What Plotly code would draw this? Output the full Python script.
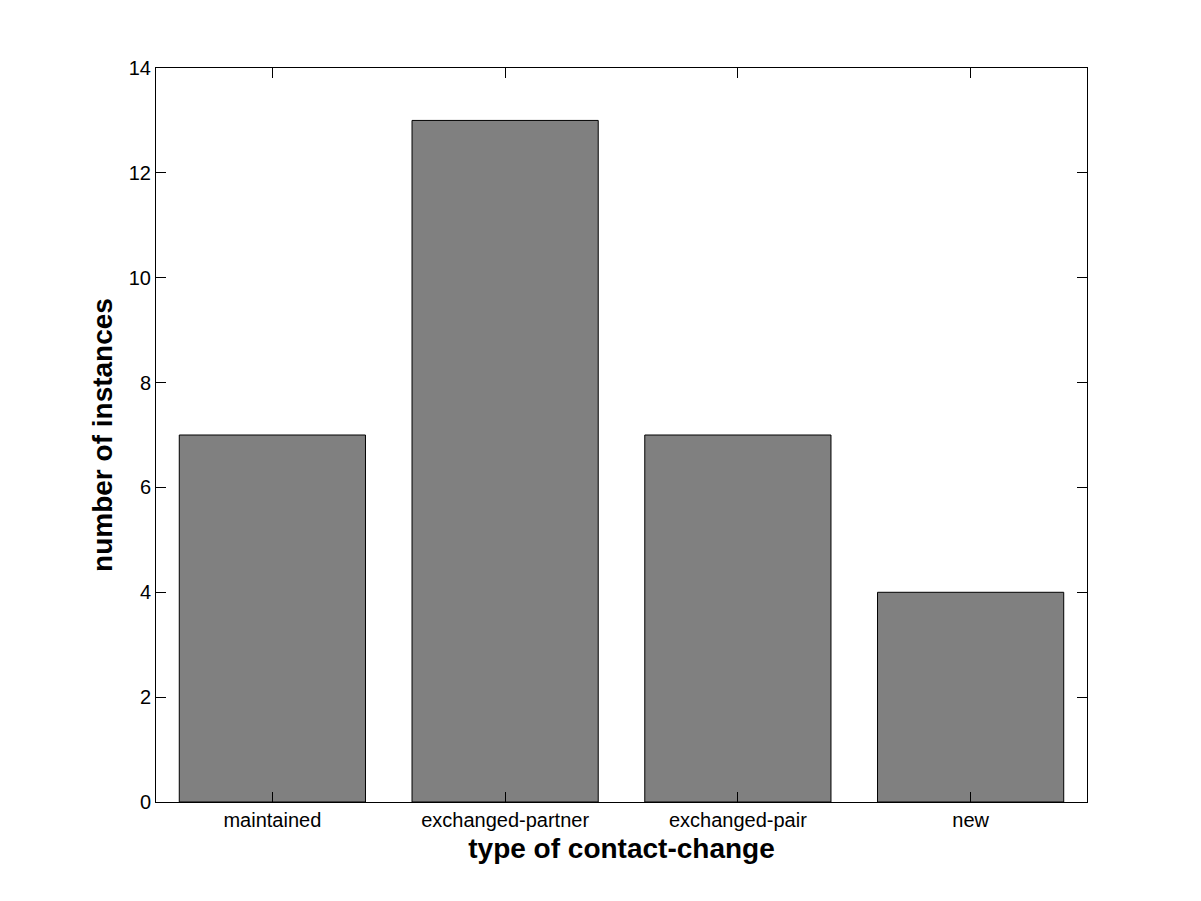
import plotly.graph_objects as go

categories = ["maintained", "exchanged-partner", "exchanged-pair", "new"]
values = [7, 13, 7, 4]
y_ticks = [0, 2, 4, 6, 8, 10, 12, 14]

x_pos = list(range(1, len(categories) + 1))

fig = go.Figure(go.Bar(
    x=x_pos, y=values, width=0.8,
    marker=dict(color="#808080", line=dict(color="black", width=1)),
))

font = "Liberation Sans, Arial, sans-serif"
fig.update_layout(
    width=1201, height=901,
    margin=dict(l=148, r=122, t=60, b=107),
    paper_bgcolor="white", plot_bgcolor="white",
    showlegend=False,
    font=dict(family=font, size=20, color="black"),
    xaxis=dict(
        range=[0.5, 4.5], tickvals=x_pos, ticktext=categories,
        ticks="inside", ticklen=10, tickcolor="black",
        showline=True, linecolor="black", linewidth=1, mirror="ticks",
        showgrid=False, zeroline=False,
        title=dict(text="<b>type of contact-change</b>", font=dict(size=28, family=font), standoff=8),
    ),
    yaxis=dict(
        range=[0, 14], tickvals=y_ticks,
        ticks="inside", ticklen=10, tickcolor="black",
        showline=True, linecolor="black", linewidth=1, mirror="ticks",
        showgrid=False, zeroline=False,
        title=dict(text="<b>number of instances</b>", font=dict(size=28, family=font), standoff=7),
    ),
)

fig.write_html("out.html")
